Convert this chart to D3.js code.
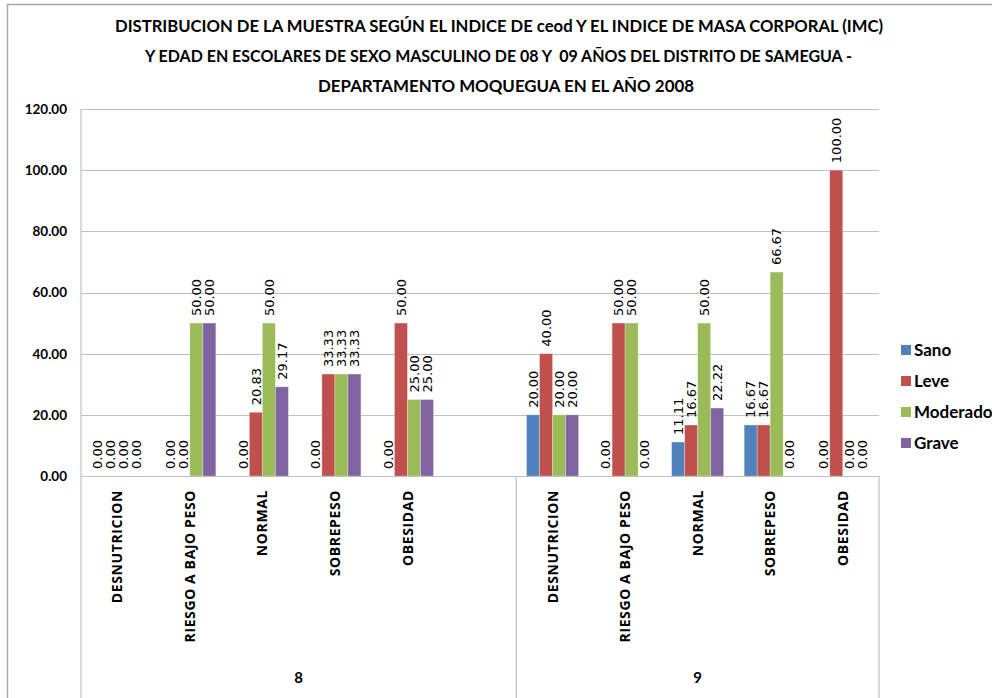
<!DOCTYPE html>
<html>
<head>
<meta charset="utf-8">
<script src="https://cdn.jsdelivr.net/npm/d3@7"></script>
<style>
  html, body { margin: 0; padding: 0; background: #fff; }
  svg { display: block; }
</style>
</head>
<body>
<svg id="chart" width="992" height="698"></svg>
<script>
// Index ceod by BMI category, boys aged 8 and 9, Samegua 2008
const titleLines = [
  "DISTRIBUCION DE LA MUESTRA SEGÚN EL INDICE DE ceod Y EL INDICE DE MASA CORPORAL (IMC)",
  "Y EDAD EN ESCOLARES DE SEXO MASCULINO DE 08 Y  09 AÑOS DEL DISTRITO DE SAMEGUA -",
  "DEPARTAMENTO MOQUEGUA EN EL AÑO 2008"
];
const ages = ["8", "9"];
const categories = ["DESNUTRICION", "RIESGO A BAJO PESO", "NORMAL", "SOBREPESO", "OBESIDAD"];
const seriesNames = ["Sano", "Leve", "Moderado", "Grave"];
const seriesColors = ["#4F81BD", "#C0504D", "#9BBB59", "#8064A2"];
// values: age 8 (five categories) followed by age 9 (five categories)
const sano     = [0, 0, 0, 0, 0,        20, 0, 11.11, 16.67, 0];
const leve     = [0, 0, 20.83, 33.33, 50, 40, 50, 16.67, 16.67, 100];
const moderado = [0, 50, 50, 33.33, 25,  20, 50, 50, 66.67, 0];
const grave    = [0, 50, 29.17, 33.33, 25, 20, 0, 22.22, 0, 0];
const yTicks = [0, 20, 40, 60, 80, 100, 120];

const seriesValues = [sano, leve, moderado, grave];

const svg = d3.select("#chart");

// outer chart border
svg.append("path")
  .attr("d", "M7.5,698 V4.5 H992")
  .attr("fill", "none").attr("stroke", "#a6a6a6").attr("stroke-width", 1.5);

// title
const titleY = [32, 62, 92];
const titleW = [768, 707, 376];
const titleX = [499, 498.5, 506];
svg.append("g").selectAll("text").data(titleLines).join("text")
  .attr("x", (d, i) => titleX[i])
  .attr("y", (d, i) => titleY[i])
  .attr("text-anchor", "middle")
  .style("white-space", "pre")
  .attr("font-family", "Lato, 'Open Sans', sans-serif")
  .attr("font-weight", "bold")
  .attr("font-size", 17)
  .attr("fill", "#000")
  .attr("textLength", (d, i) => titleW[i])
  .attr("lengthAdjust", "spacingAndGlyphs")
  .text(d => d);

// slots along x: each age has its categories, age 8 carries one blank spacer slot
const slots = [];
ages.forEach((age, gi) => {
  categories.forEach((cat, ci) => slots.push({ key: age + "|" + cat, age, cat, idx: gi * categories.length + ci }));
  if (gi === 0) slots.push({ key: age + "|", age, cat: "", idx: -1 });
});

const plotLeft = 81, plotRight = 879, plotTop = 109, axisY = 476, plotBottom = 698;

const x = d3.scaleBand().domain(slots.map(s => s.key)).range([plotLeft, plotRight]).padding(0);
const xs = d3.scaleBand().domain(seriesNames).range([0, x.bandwidth()]).paddingInner(0).paddingOuter(0.79);
const y = d3.scaleLinear().domain([0, 120]).range([axisY, plotTop]);

// gridlines
svg.append("g").selectAll("line").data(yTicks.filter(t => t > 0)).join("line")
  .attr("x1", plotLeft).attr("x2", plotRight)
  .attr("y1", d => Math.round(y(d)) + 0.5).attr("y2", d => Math.round(y(d)) + 0.5)
  .attr("stroke", "#bfbfbf").attr("stroke-width", 1);

// y axis labels
svg.append("g").selectAll("text").data(yTicks).join("text")
  .attr("x", 67).attr("y", d => y(d))
  .attr("dy", "0.36em")
  .attr("text-anchor", "end")
  .attr("font-family", "Lato, sans-serif").attr("font-weight", "bold").attr("font-size", 13.5)
  .attr("fill", "#000")
  .text(d => d3.format(".2f")(d));

// bars
const barData = [];
slots.filter(s => s.idx >= 0).forEach(s => {
  seriesNames.forEach((name, si) => {
    barData.push({ slot: s.key, series: name, color: seriesColors[si], value: seriesValues[si][s.idx] });
  });
});

svg.append("g").selectAll("rect").data(barData).join("rect")
  .attr("x", d => x(d.slot) + xs(d.series))
  .attr("width", xs.bandwidth())
  .attr("y", d => y(d.value))
  .attr("height", d => axisY - y(d.value))
  .attr("fill", d => d.color)
  .attr("stroke", "#ffffff").attr("stroke-opacity", 0.35).attr("stroke-width", 0.8);

// axis lines
const axisG = svg.append("g").attr("stroke", "#bfbfbf").attr("stroke-width", 1.2);
axisG.append("line").attr("x1", plotLeft).attr("x2", plotLeft).attr("y1", plotTop).attr("y2", plotBottom);
axisG.append("line").attr("x1", plotLeft).attr("x2", plotRight).attr("y1", axisY + 0.5).attr("y2", axisY + 0.5);
// group separators below the axis
const groupEdges = [x(ages[1] + "|" + categories[0]), plotRight];
axisG.selectAll("line.sep").data(groupEdges).join("line").attr("class", "sep")
  .attr("x1", d => d).attr("x2", d => d).attr("y1", axisY).attr("y2", plotBottom);

// value labels
svg.append("g").selectAll("text").data(barData).join("text")
  .attr("transform", d => `translate(${x(d.slot) + xs(d.series) + xs.bandwidth() / 2},${y(d.value) - 7}) rotate(-90)`)
  .attr("dy", "0.36em")
  .attr("text-anchor", "start")
  .attr("font-family", "'DejaVu Sans', sans-serif").attr("font-size", 13)
  .attr("fill", "#000")
  .text(d => d3.format(".2f")(d.value));

// category labels
svg.append("g").selectAll("text").data(slots.filter(s => s.cat !== "")).join("text")
  .attr("transform", d => `translate(${x(d.key) + x.bandwidth() / 2},490) rotate(-90)`)
  .attr("dy", "0.36em")
  .attr("text-anchor", "end")
  .attr("font-family", "'Open Sans', sans-serif").attr("font-weight", "bold").attr("font-size", 14)
  .attr("letter-spacing", 0.6)
  .attr("fill", "#000")
  .text(d => d.cat);

// age labels
const ageCenters = [(plotLeft + groupEdges[0]) / 2, (groupEdges[0] + plotRight) / 2];
svg.append("g").selectAll("text").data(ages).join("text")
  .attr("x", (d, i) => ageCenters[i]).attr("y", 678)
  .attr("dy", "0.36em")
  .attr("text-anchor", "middle")
  .attr("font-family", "Lato, sans-serif").attr("font-weight", "bold").attr("font-size", 15)
  .attr("fill", "#000")
  .text(d => d);

// legend
const legend = svg.append("g").selectAll("g").data(seriesNames).join("g")
  .attr("transform", (d, i) => `translate(901,${350 + i * 31})`);
legend.append("rect").attr("x", 0).attr("y", -5).attr("width", 10).attr("height", 10)
  .attr("fill", (d, i) => seriesColors[i]);
legend.append("text").attr("x", 13).attr("y", 0).attr("dy", "0.36em")
  .attr("font-family", "Lato, sans-serif").attr("font-weight", "bold").attr("font-size", 17)
  .attr("fill", "#000")
  .text(d => d);
</script>
</body>
</html>
